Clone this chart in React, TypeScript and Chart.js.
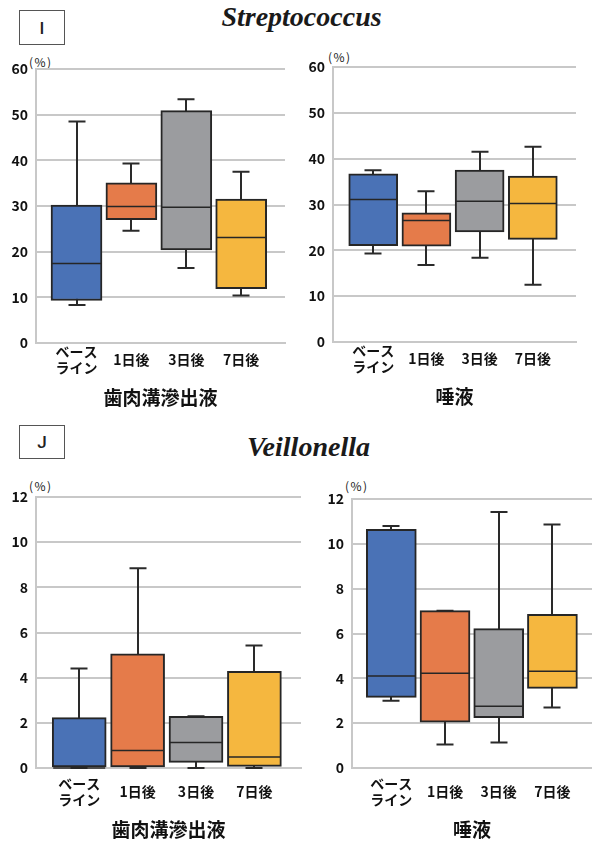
import React, { useEffect, useRef } from 'react';
import { Chart, registerables } from 'chart.js';

Chart.register(...registerables);

// ---------- data ----------
const categories: (string | string[])[] = [['ベース', 'ライン'], '1日後', '3日後', '7日後'];
const boxColors = ['#4a72b6', '#e57b4a', '#9b9c9f', '#f5b73f'];

const strepTicksMax = 60;
const strepTickStep = 10;
const veilTicksMax = 12;
const veilTickStep = 2;

// Streptococcus – 歯肉溝滲出液
const strepGcfMin = [8.3, 24.6, 16.4, 10.4];
const strepGcfQ1 = [9.3, 27.0, 20.4, 11.9];
const strepGcfMedian = [17.4, 29.9, 29.7, 23.1];
const strepGcfQ3 = [30.2, 35.1, 50.9, 31.5];
const strepGcfMax = [48.5, 39.3, 53.4, 37.5];

// Streptococcus – 唾液
const strepSalMin = [19.3, 16.8, 18.4, 12.5];
const strepSalQ1 = [21.0, 20.9, 24.0, 22.4];
const strepSalMedian = [31.1, 26.5, 30.7, 30.2];
const strepSalQ3 = [36.7, 28.2, 37.5, 36.2];
const strepSalMax = [37.5, 32.9, 41.5, 42.6];

// Veillonella – 歯肉溝滲出液
const veilGcfMin = [0, 0, 0, 0];
const veilGcfQ1 = [0, 0, 0.25, 0.07];
const veilGcfMedian = [0, 0.78, 1.13, 0.49];
const veilGcfQ3 = [2.23, 5.06, 2.29, 4.28];
const veilGcfMax = [4.41, 8.84, 2.29, 5.42];

// Veillonella – 唾液
const veilSalMin = [3.0, 1.05, 1.14, 2.7];
const veilSalQ1 = [3.15, 2.05, 2.24, 3.55];
const veilSalMedian = [4.1, 4.23, 2.76, 4.32];
const veilSalQ3 = [10.65, 7.02, 6.22, 6.85];
const veilSalMax = [10.8, 7.02, 11.42, 10.86];

// ---------- chart ----------
const JP = '"Noto Sans CJK JP", "Noto Sans", sans-serif';
const TEXT = '#111111';
const GRID = '#c8c8c8';
const DARK = '#262626';

type Spec = {
  left: number; top: number; w: number; h: number;
  padTop: number; padRight: number; yWidth: number; xHeight: number;
  xMin: number; xMax: number; bar: number; yMax: number; yStep: number;
  tickPadX: number; title: string;
  min: number[]; q1: number[]; median: number[]; q3: number[]; max: number[];
};

function makeBoxPlugin(s: Spec) {
  const cap = 17;
  return {
    id: 'boxWhiskers',
    beforeDatasetsDraw(chart: any) {
      const { ctx, scales } = chart;
      const x = scales.x, y = scales.y;
      ctx.save();
      ctx.strokeStyle = '#2a2a2a';
      ctx.lineWidth = 2;
      s.min.forEach((mn, i) => {
        const px = Math.round(x.getPixelForValue(i));
        const y0 = y.getPixelForValue(mn);
        const y1 = y.getPixelForValue(s.max[i]);
        ctx.beginPath();
        ctx.moveTo(px, y0);
        ctx.lineTo(px, y1);
        ctx.moveTo(px - cap / 2, y0);
        ctx.lineTo(px + cap / 2, y0);
        ctx.moveTo(px - cap / 2, y1);
        ctx.lineTo(px + cap / 2, y1);
        ctx.stroke();
      });
      ctx.restore();
    },
    afterDatasetsDraw(chart: any) {
      const { ctx, scales } = chart;
      const x = scales.x, y = scales.y;
      ctx.save();
      ctx.strokeStyle = DARK;
      ctx.lineWidth = 1.5;
      s.median.forEach((md, i) => {
        const px = x.getPixelForValue(i);
        const py = y.getPixelForValue(md);
        ctx.beginPath();
        ctx.moveTo(px - s.bar / 2 + 1, py);
        ctx.lineTo(px + s.bar / 2 - 1, py);
        ctx.stroke();
      });
      ctx.restore();
    },
  };
}

function BoxChart({ spec }: { spec: Spec }) {
  const ref = useRef<HTMLCanvasElement | null>(null);
  useEffect(() => {
    if (!ref.current) return;
    const s = spec;
    const chart = new Chart(ref.current, {
      type: 'bar',
      data: {
        datasets: [
          {
            data: s.q1.map((v, i) => ({ x: i, y: [v, s.q3[i]] })) as any,
            backgroundColor: boxColors,
            borderColor: DARK,
            borderWidth: 2,
            borderSkipped: false,
            barThickness: s.bar,
            grouped: false,
          } as any,
        ],
      },
      options: {
        responsive: false,
        animation: false,
        devicePixelRatio: 1,
        layout: { padding: { top: s.padTop, right: s.padRight, left: 0, bottom: 0 } },
        plugins: { legend: { display: false }, tooltip: { enabled: false } },
        scales: {
          x: {
            type: 'linear',
            offset: false,
            min: s.xMin,
            max: s.xMax,
            afterBuildTicks: (sc: any) => {
              sc.ticks = categories.map((_, i) => ({ value: i }));
            },
            afterFit: (sc: any) => {
              sc.height = s.xHeight;
            },
            ticks: {
              callback: (v: any) => categories[v as number],
              autoSkip: false,
              maxRotation: 0,
              minRotation: 0,
              crossAlign: 'center',
              padding: s.tickPadX,
              color: TEXT,
              font: { family: JP, size: 14, weight: 'bold', lineHeight: 1.1 },
            },
            grid: { display: false, drawTicks: false },
            border: { display: true, color: GRID, width: 2 },
            title: {
              display: true,
              text: s.title,
              color: TEXT,
              padding: 0,
              font: { family: JP, size: 19, weight: 'bold', lineHeight: 1.2 },
            },
          },
          y: {
            min: 0,
            max: s.yMax,
            afterFit: (sc: any) => {
              sc.width = s.yWidth;
            },
            ticks: {
              stepSize: s.yStep,
              padding: 8,
              color: TEXT,
              font: { family: JP, size: 14, weight: 'bold' },
            },
            grid: { color: GRID, lineWidth: 2, drawTicks: false },
            border: { display: true, color: GRID, width: 2 },
          },
        },
      } as any,
      plugins: [makeBoxPlugin(s)],
    });
    return () => chart.destroy();
  }, [spec]);
  return (
    <canvas
      ref={ref}
      width={spec.w}
      height={spec.h}
      style={{ position: 'absolute', left: spec.left, top: spec.top, width: spec.w, height: spec.h }}
    />
  );
}

const specs: Spec[] = [
  {
    left: 0, top: 49, w: 296, h: 360, padTop: 20, padRight: 11, yWidth: 36, xHeight: 66,
    xMin: -0.738, xMax: 3.798, bar: 51, yMax: strepTicksMax, yStep: strepTickStep, tickPadX: 9,
    title: '歯肉溝滲出液',
    min: strepGcfMin, q1: strepGcfQ1, median: strepGcfMedian, q3: strepGcfQ3, max: strepGcfMax,
  },
  {
    left: 296, top: 47, w: 296, h: 361, padTop: 20, padRight: 16, yWidth: 37, xHeight: 66,
    xMin: -0.756, xMax: 3.812, bar: 49, yMax: strepTicksMax, yStep: strepTickStep, tickPadX: 9,
    title: '唾液',
    min: strepSalMin, q1: strepSalQ1, median: strepSalMedian, q3: strepSalQ3, max: strepSalMax,
  },
  {
    left: 0, top: 477, w: 310, h: 364, padTop: 20, padRight: 9, yWidth: 36, xHeight: 73,
    xMin: -0.74, xMax: 3.798, bar: 54, yMax: veilTicksMax, yStep: veilTickStep, tickPadX: 16,
    title: '歯肉溝滲出液',
    min: veilGcfMin, q1: veilGcfQ1, median: veilGcfMedian, q3: veilGcfQ3, max: veilGcfMax,
  },
  {
    left: 296, top: 479, w: 296, h: 362, padTop: 20, padRight: 0, yWidth: 56, xHeight: 73,
    xMin: -0.732, xMax: 3.737, bar: 50, yMax: veilTicksMax, yStep: veilTickStep, tickPadX: 16,
    title: '唾液',
    min: veilSalMin, q1: veilSalQ1, median: veilSalMedian, q3: veilSalQ3, max: veilSalMax,
  },
];

const panelBox = (label: string, left: number, top: number, h: number) => (
  <div
    style={{
      position: 'absolute', left, top, width: 46, height: h, boxSizing: 'border-box',
      border: '1px solid #555', display: 'flex', alignItems: 'center', justifyContent: 'center',
      fontFamily: 'Roboto, "Liberation Sans", sans-serif', fontSize: 17, fontWeight: 500, color: '#222',
    }}
  >
    {label}
  </div>
);

const title = (text: string, centerX: number, top: number) => (
  <div
    style={{
      position: 'absolute', left: 0, top, width: centerX * 2, textAlign: 'center',
      fontFamily: '"Liberation Serif", "Times New Roman", serif', fontStyle: 'italic',
      fontWeight: 'bold', fontSize: 28, lineHeight: '28px', color: '#1a1a1a', whiteSpace: 'nowrap',
    }}
  >
    {text}
  </div>
);

const pct = (left: number, cy: number) => (
  <div
    style={{
      position: 'absolute', left, top: cy - 7, fontFamily: JP, fontSize: 12, lineHeight: '14px',
      letterSpacing: 1.5, color: '#222', whiteSpace: 'nowrap',
    }}
  >
    (%)
  </div>
);

export default function App() {
  return (
    <div
      style={{
        position: 'absolute', left: 0, top: 0, width: 592, height: 841, overflow: 'hidden',
        background: '#ffffff',
      }}
    >
      {panelBox('I', 19, 10, 35)}
      {title('Streptococcus', 301.5, 2.5)}
      {pct(29, 62)}
      {pct(328, 57)}
      {panelBox('J', 19, 425, 34)}
      {title('Veillonella', 308.5, 433)}
      {pct(29, 486)}
      {pct(345, 486)}
      {specs.map((s, i) => (
        <BoxChart key={i} spec={s} />
      ))}
    </div>
  );
}
